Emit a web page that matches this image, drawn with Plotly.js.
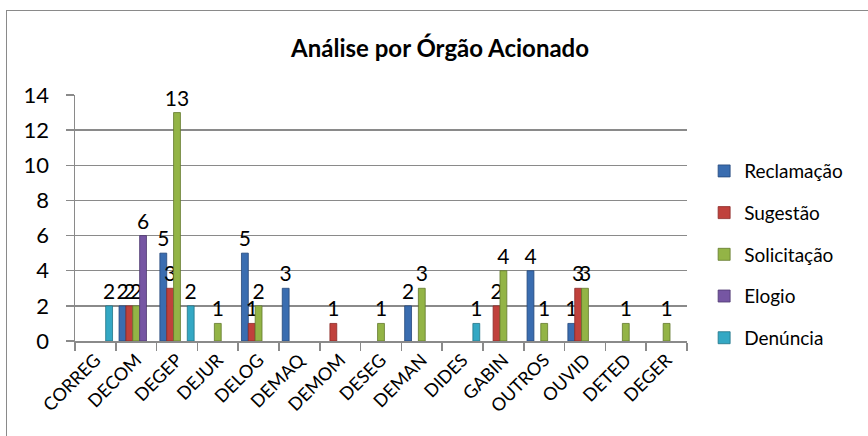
<!DOCTYPE html>
<html>
<head>
<meta charset="utf-8">
<script src="https://cdn.plot.ly/plotly-3.0.1.min.js"></script>
<style>
html,body{margin:0;padding:0;background:#fff;overflow:hidden;}
#chart{width:868px;height:436px;}
#frame{position:absolute;left:6px;top:10px;width:900px;height:500px;border:1px solid #8a8a8a;pointer-events:none;}
</style>
</head>
<body>
<div id="chart"></div>
<div id="frame"></div>
<script>
const categories = ["CORREG","DECOM","DEGEP","DEJUR","DELOG","DEMAQ","DEMOM","DESEG","DEMAN","DIDES","GABIN","OUTROS","OUVID","DETED","DEGER"];
const reclamacao  = [null, 2, 5, null, 5, 3, null, null, 2, null, null, 4, 1, null, null];
const sugestao    = [null, 2, 3, null, 1, null, 1, null, null, null, 2, null, 3, null, null];
const solicitacao = [null, 2, 13, 1, 2, null, null, 1, 3, null, 4, 1, 3, 1, 1];
const elogio      = [null, 6, null, null, null, null, null, null, null, null, null, null, null, null, null];
const denuncia    = [2, null, 2, null, null, null, null, null, null, 1, null, null, null, null, null];
const seriesNames = ["Reclamação","Sugestão","Solicitação","Elogio","Denúncia"];
const yTicks = [0, 2, 4, 6, 8, 10, 12, 14];

const FONT = "Lato, 'Noto Sans', sans-serif";
const colors = ["#3a6db0","#c0413c","#93b446","#7656a3","#34a8c4"];
const lines  = ["#24477a","#8a2a27","#62792c","#4e3870","#217387"];
const data = [reclamacao, sugestao, solicitacao, elogio, denuncia].map((vals, i) => ({
  type: "bar",
  name: seriesNames[i],
  x: categories,
  y: vals,
  legendgroup: "g" + i,
  marker: {color: colors[i], line: {color: lines[i], width: 0.8}},
  text: vals.map(v => v === null ? "" : String(v)),
  textposition: "outside",
  constraintext: "none",
  cliponaxis: false,
  textfont: {family: FONT, size: 21, color: "#000"},
  hoverinfo: "x+y+name"
}));

const layout = {
  width: 868, height: 436,
  margin: {l: 75, r: 181, t: 95, b: 95},
  paper_bgcolor: "#fff", plot_bgcolor: "#fff",
  font: {family: FONT, color: "#000"},
  title: {text: "<b>Análise por Órgão Acionado</b>", font: {family: FONT, size: 24, color: "#000"},
          x: 0.507, xanchor: "center", y: 0.87, yanchor: "bottom"},
  barmode: "group", bargap: 0.16, bargroupgap: 0,
  showlegend: true,
  legend: {x: 1.028, xanchor: "left", y: 0.768, yanchor: "top", font: {family: FONT, size: 19, color: "#000"},
           tracegroupgap: 14, bgcolor: "rgba(0,0,0,0)", itemwidth: 30},
  xaxis: {type: "category", tickson: "boundaries", ticks: "outside", ticklen: 8, tickcolor: "#8a8a8a", tickwidth: 1.5,
          showline: true, linecolor: "#8a8a8a", linewidth: 1.5, showgrid: false,
          tickangle: -45, tickfont: {family: FONT, size: 18, color: "#000"}},
  yaxis: {range: [0, 14], tickvals: yTicks, ticktext: yTicks.map(String), ticks: "outside", ticklen: 8,
          tickcolor: "#8a8a8a", tickwidth: 1.5, showline: true, linecolor: "#8a8a8a", linewidth: 1.5,
          showgrid: true, gridcolor: "#8a8a8a", gridwidth: 1.5, zeroline: false, ticklabelstandoff: 12,
          tickfont: {family: FONT, size: 22, color: "#000"}}
};
Plotly.newPlot("chart", data, layout, {displayModeBar: false, staticPlot: true});
</script>
</body>
</html>
